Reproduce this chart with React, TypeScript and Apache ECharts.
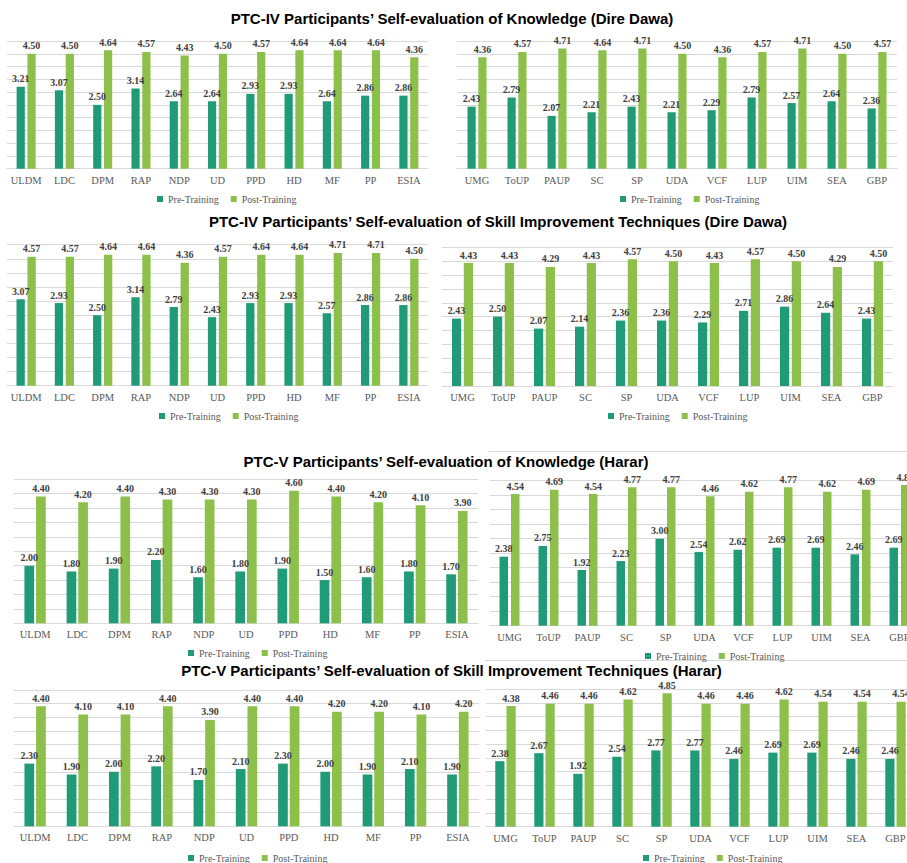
import React, { useEffect, useRef } from "react";
import * as echarts from "echarts";

// Categories
const groupACats = ["ULDM", "LDC", "DPM", "RAP", "NDP", "UD", "PPD", "HD", "MF", "PP", "ESIA"];
const groupBCats = ["UMG", "ToUP", "PAUP", "SC", "SP", "UDA", "VCF", "LUP", "UIM", "SEA", "GBP"];

// PTC-IV Knowledge (Dire Dawa)
const ddKnowAPre = [3.21, 3.07, 2.5, 3.14, 2.64, 2.64, 2.93, 2.93, 2.64, 2.86, 2.86];
const ddKnowAPost = [4.5, 4.5, 4.64, 4.57, 4.43, 4.5, 4.57, 4.64, 4.64, 4.64, 4.36];
const ddKnowBPre = [2.43, 2.79, 2.07, 2.21, 2.43, 2.21, 2.29, 2.79, 2.57, 2.64, 2.36];
const ddKnowBPost = [4.36, 4.57, 4.71, 4.64, 4.71, 4.5, 4.36, 4.57, 4.71, 4.5, 4.57];

// PTC-IV Skill (Dire Dawa)
const ddSkillAPre = [3.07, 2.93, 2.5, 3.14, 2.79, 2.43, 2.93, 2.93, 2.57, 2.86, 2.86];
const ddSkillAPost = [4.57, 4.57, 4.64, 4.64, 4.36, 4.57, 4.64, 4.64, 4.71, 4.71, 4.5];
const ddSkillBPre = [2.43, 2.5, 2.07, 2.14, 2.36, 2.36, 2.29, 2.71, 2.86, 2.64, 2.43];
const ddSkillBPost = [4.43, 4.43, 4.29, 4.43, 4.57, 4.5, 4.43, 4.57, 4.5, 4.29, 4.5];

// PTC-V Knowledge (Harar)
const hrKnowAPre = [2.0, 1.8, 1.9, 2.2, 1.6, 1.8, 1.9, 1.5, 1.6, 1.8, 1.7];
const hrKnowAPost = [4.4, 4.2, 4.4, 4.3, 4.3, 4.3, 4.6, 4.4, 4.2, 4.1, 3.9];
const hrKnowBPre = [2.38, 2.75, 1.92, 2.23, 3.0, 2.54, 2.62, 2.69, 2.69, 2.46, 2.69];
const hrKnowBPost = [4.54, 4.69, 4.54, 4.77, 4.77, 4.46, 4.62, 4.77, 4.62, 4.69, 4.85];

// PTC-V Skill (Harar)
const hrSkillAPre = [2.3, 1.9, 2.0, 2.2, 1.7, 2.1, 2.3, 2.0, 1.9, 2.1, 1.9];
const hrSkillAPost = [4.4, 4.1, 4.1, 4.4, 3.9, 4.4, 4.4, 4.2, 4.2, 4.1, 4.2];
const hrSkillBPre = [2.38, 2.67, 1.92, 2.54, 2.77, 2.77, 2.46, 2.69, 2.69, 2.46, 2.46];
const hrSkillBPost = [4.38, 4.46, 4.46, 4.62, 4.85, 4.46, 4.46, 4.62, 4.54, 4.54, 4.54];

const seriesNames = ["Pre-Training", "Post-Training"];

const titleTexts = [
  "PTC-IV Participants\u2019 Self-evaluation of Knowledge (Dire Dawa)",
  "PTC-IV Participants\u2019 Self-evaluation of Skill Improvement Techniques (Dire Dawa)",
  "PTC-V Participants\u2019 Self-evaluation of Knowledge (Harar)",
  "PTC-V Participants\u2019 Self-evaluation of Skill Improvement Techniques (Harar)",
];

const PRE_COLOR = "#1F9B78";
const POST_COLOR = "#8CC04A";
const GRID_COLOR = "#D9D9D9";
const SERIF = "Liberation Serif";

const panels = [
  { cats: groupACats, pre: ddKnowAPre, post: ddKnowAPost, left: 7, top: 41, width: 421, height: 127.7, bw: 8.2, gap: "32%", legL: 157, legY: 200 },
  { cats: groupBCats, pre: ddKnowBPre, post: ddKnowBPost, left: 457, top: 41, width: 440, height: 127.7, bw: 8.2, gap: "32%", legL: 620, legY: 200 },
  { cats: groupACats, pre: ddSkillAPre, post: ddSkillAPost, left: 7, top: 244.7, width: 421, height: 141, bw: 8.3, gap: "32%", legL: 159, legY: 417 },
  { cats: groupBCats, pre: ddSkillBPre, post: ddSkillBPost, left: 442, top: 247.3, width: 451, height: 138.7, bw: 9.2, gap: "28%", legL: 608, legY: 417 },
  { cats: groupACats, pre: hrKnowAPre, post: hrKnowAPost, left: 14, top: 479.3, width: 464, height: 144, bw: 9.7, gap: "20%", legL: 188, legY: 654 },
  { cats: groupBCats, pre: hrKnowBPre, post: hrKnowBPost, left: 490, top: 480.7, width: 429, height: 145, bw: 8.5, gap: "35%", legL: 645, legY: 657 },
  { cats: groupACats, pre: hrSkillAPre, post: hrSkillAPost, left: 14, top: 690, width: 465, height: 136.3, bw: 9.7, gap: "20%", legL: 188, legY: 859 },
  { cats: groupBCats, pre: hrSkillBPre, post: hrSkillBPost, left: 486, top: 689, width: 429, height: 137.7, bw: 9.2, gap: "22%", legL: 643, legY: 859 },
];

const titlePos = [
  { x: 452, y: 11 },
  { x: 498, y: 214 },
  { x: 446, y: 453.5 },
  { x: 451.5, y: 663 },
];

export default function App() {
  const ref = useRef<HTMLDivElement>(null);
  useEffect(() => {
    if (!ref.current) return;
    const chart = echarts.init(ref.current, undefined, { renderer: "svg" });
    const labelCfg = {
      show: true,
      position: "top",
      distance: 3,
      fontFamily: SERIF,
      fontWeight: "bold",
      fontSize: 10,
      color: "#404040",
      formatter: (p: any) => Number(p.value).toFixed(2),
    };
    const option: any = {
      animation: false,
      backgroundColor: "#ffffff",
      title: titleTexts.map((t, i) => ({
        text: t,
        left: titlePos[i].x,
        top: titlePos[i].y,
        textAlign: "center",
        padding: 0,
        textStyle: {
          fontFamily: "Liberation Sans",
          fontWeight: "bold",
          fontSize: 15,
          color: "#000000",
        },
      })),
      legend: panels.map((p) => ({
        left: p.legL,
        top: p.legY - 6,
        padding: 0,
        itemWidth: 6,
        itemHeight: 6,
        itemGap: 12,
        icon: "rect",
        selectedMode: false,
        data: seriesNames,
        textStyle: { fontFamily: SERIF, fontSize: 10, color: "#595959" },
      })),
      grid: panels.map((p) => ({
        left: p.left,
        top: p.top,
        width: p.width,
        height: p.height,
        containLabel: false,
        outerBoundsMode: "none",
      })),
      xAxis: panels.map((p, i) => ({
        type: "category",
        gridIndex: i,
        data: p.cats,
        axisTick: { show: false },
        axisLine: { show: true, lineStyle: { color: GRID_COLOR, width: 1 } },
        axisLabel: { interval: 0, margin: 6, fontFamily: SERIF, fontSize: 10.5, color: "#595959" },
      })),
      yAxis: panels.map((p, i) => ({
        type: "value",
        gridIndex: i,
        min: 0,
        max: 5,
        interval: 0.5,
        axisLabel: { show: false },
        axisLine: { show: false },
        axisTick: { show: false },
        splitLine: { show: true, lineStyle: { color: GRID_COLOR, width: 1 } },
      })),
      series: panels.flatMap((p, i) => [
        {
          type: "bar",
          name: seriesNames[0],
          xAxisIndex: i,
          yAxisIndex: i,
          data: p.pre,
          barWidth: p.bw,
          barGap: p.gap,
          itemStyle: { color: PRE_COLOR },
          label: labelCfg,
        },
        {
          type: "bar",
          name: seriesNames[1],
          xAxisIndex: i,
          yAxisIndex: i,
          data: p.post,
          barWidth: p.bw,
          barGap: p.gap,
          itemStyle: { color: POST_COLOR },
          label: labelCfg,
        },
      ]),
      graphic: [
        { type: "line", shape: { x1: 489, y1: 451.5, x2: 907, y2: 451.5 }, style: { stroke: GRID_COLOR, lineWidth: 1 } },
        { type: "line", shape: { x1: 485, y1: 660.5, x2: 907, y2: 660.5 }, style: { stroke: GRID_COLOR, lineWidth: 1 } },
      ],
    };
    chart.setOption(option);
    return () => chart.dispose();
  }, []);
  return (
    <div
      ref={ref}
      style={{ position: "absolute", left: 0, top: 0, width: 907, height: 863, background: "#fff" }}
    />
  );
}
